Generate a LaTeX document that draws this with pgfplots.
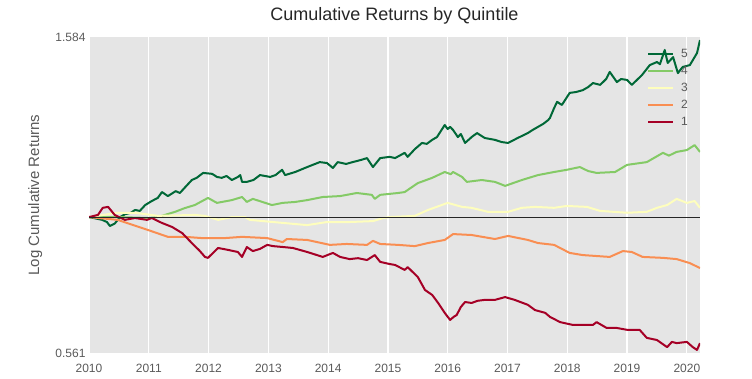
\documentclass[border=0pt]{standalone}
\usepackage{fontspec}
\setmainfont{Liberation Sans}
\usepackage{pgfplots}
\pgfplotsset{compat=1.18}
\definecolor{qa}{HTML}{A50026}
\definecolor{qb}{HTML}{F98E52}
\definecolor{qc}{HTML}{FEFEBD}
\definecolor{qd}{HTML}{84CA66}
\definecolor{qe}{HTML}{006837}
\definecolor{bggray}{HTML}{E5E5E5}
\definecolor{tickgray}{HTML}{5A5A5A}
\begin{document}
\begin{tikzpicture}
\useasboundingbox (0,0) rectangle (752pt,378pt);
\begin{axis}[
  at={(89pt,25pt)}, anchor=south west,
  width=611pt, height=316pt, scale only axis,
  xmin=2010, xmax=2020.22, ymin=0.561, ymax=1.584,
  axis background/.style={fill=bggray},
  axis line style={draw=none},
  xtick={2010,2011,2012,2013,2014,2015,2016,2017,2018,2019,2020},
  xticklabels={2010,2011,2012,2013,2014,2015,2016,2017,2018,2019,2020},
  ytick={0.561,1.584}, yticklabels={0.561,1.584},
  major tick length=0pt,
  xmajorgrids, grid style={white, line width=1.2pt},
  tick label style={font=\fontsize{12}{14}\selectfont, text=tickgray},
  xticklabel style={yshift=-8pt},
  ylabel={Log Cumulative Returns},
  ylabel style={at={(axis description cs:-0.088,0.5)}, anchor=center, font=\fontsize{15}{17}\selectfont, text=tickgray},
  title={Cumulative Returns by Quintile},
  title style={at={(axis description cs:0.5,1.048)}, anchor=center, font=\fontsize{18}{20}\selectfont, text=black!85},
  legend style={at={(0.987,0.971)}, anchor=north east, draw=none, fill=none,
    font=\fontsize{12}{12}\selectfont, text=tickgray, row sep=5.2pt,
    nodes={inner sep=1pt},
    /tikz/every odd column/.append style={column sep=6pt}},
  legend cell align=left,
  legend image code/.code={\draw[#1] (0pt,0pt) -- (25pt,0pt);},
  every axis plot/.append style={line width=2pt, line join=round},
]
\addplot[qe] coordinates {
(2010.00,1.001) (2010.15,0.995) (2010.22,0.992) (2010.30,0.985) (2010.35,0.972) (2010.43,0.980)
(2010.52,1.001) (2010.60,1.010) (2010.70,1.015) (2010.77,1.024) (2010.85,1.021) (2010.94,1.040)
(2011.05,1.053) (2011.15,1.063) (2011.22,1.082) (2011.32,1.069) (2011.45,1.085)
(2011.52,1.079) (2011.61,1.098) (2011.72,1.121) (2011.80,1.128) (2011.91,1.144) (2012.06,1.141) (2012.14,1.131) (2012.22,1.128)
(2012.30,1.134) (2012.39,1.121) (2012.49,1.131) (2012.53,1.137) (2012.56,1.115) (2012.64,1.115)
(2012.75,1.121) (2012.86,1.137) (2013.03,1.131) (2013.12,1.137) (2013.23,1.154) (2013.28,1.137) (2013.45,1.147) (2013.65,1.163)
(2013.86,1.179) (2013.98,1.176) (2014.08,1.160) (2014.16,1.179) (2014.30,1.173) (2014.41,1.179)
(2014.55,1.186) (2014.65,1.192) (2014.75,1.163) (2014.87,1.192) (2015.03,1.196) (2015.12,1.192)
(2015.28,1.209) (2015.33,1.196) (2015.45,1.221) (2015.57,1.241) (2015.65,1.238) (2015.74,1.251) (2015.82,1.260)
(2015.95,1.299) (2016.00,1.286) (2016.04,1.293) (2016.09,1.283) (2016.17,1.260) (2016.22,1.270) (2016.29,1.241)
(2016.40,1.260) (2016.49,1.273) (2016.62,1.257) (2016.79,1.251) (2016.90,1.244) (2017.01,1.241) (2017.17,1.257)
(2017.34,1.273) (2017.42,1.283) (2017.51,1.293) (2017.60,1.303) (2017.68,1.315) (2017.71,1.322) (2017.78,1.354)
(2017.83,1.374) (2017.91,1.364) (2018.04,1.403) (2018.15,1.406) (2018.26,1.412) (2018.35,1.422) (2018.43,1.435)
(2018.55,1.429) (2018.65,1.448) (2018.71,1.471) (2018.83,1.438) (2018.90,1.448) (2019.00,1.445) (2019.08,1.429)
(2019.25,1.461) (2019.38,1.493) (2019.50,1.503) (2019.55,1.496) (2019.63,1.542) (2019.68,1.500)
(2019.77,1.519) (2019.85,1.467) (2019.93,1.487) (2020.05,1.493) (2020.17,1.532)
(2020.22,1.574)
};
\addlegendentry{5}
\addplot[qd] coordinates {
(2010.00,1.001) (2010.50,1.001) (2011.00,0.998) (2011.15,1.001) (2011.44,1.018)
(2011.60,1.030) (2011.77,1.040) (2011.99,1.063) (2012.14,1.047) (2012.39,1.056) (2012.56,1.066)
(2012.64,1.050) (2012.74,1.060) (2012.90,1.050) (2013.06,1.040) (2013.24,1.047) (2013.45,1.050) (2013.65,1.056)
(2013.91,1.066) (2014.20,1.069) (2014.48,1.079) (2014.73,1.073) (2014.78,1.060)
(2014.87,1.073) (2015.17,1.079) (2015.28,1.082) (2015.50,1.111) (2015.74,1.128)
(2015.95,1.147) (2016.05,1.140) (2016.09,1.147) (2016.24,1.131) (2016.32,1.115) (2016.57,1.121)
(2016.79,1.115) (2016.96,1.102) (2017.24,1.121) (2017.51,1.137) (2017.78,1.147)
(2017.99,1.154) (2018.21,1.163) (2018.35,1.150) (2018.49,1.144) (2018.80,1.147) (2019.00,1.170)
(2019.33,1.179) (2019.60,1.209) (2019.70,1.200) (2019.83,1.212) (2020.00,1.218) (2020.13,1.234)
(2020.22,1.212)
};
\addlegendentry{4}
\addplot[qc] coordinates {
(2010.00,1.001) (2010.48,1.015) (2010.77,1.015) (2011.15,1.005) (2011.77,1.008)
(2011.94,1.005) (2012.16,0.992) (2012.39,1.001) (2012.61,1.001) (2012.69,0.992)
(2013.08,0.985) (2013.65,0.975) (2013.98,0.985) (2014.36,0.985) (2014.75,0.988)
(2014.92,0.998) (2015.03,1.001) (2015.45,1.005) (2015.67,1.024) (2016.00,1.047)
(2016.24,1.034) (2016.40,1.031) (2016.67,1.018) (2017.01,1.018) (2017.24,1.031)
(2017.46,1.034) (2017.78,1.031) (2017.99,1.037) (2018.33,1.034) (2018.55,1.021)
(2019.00,1.015) (2019.33,1.018) (2019.50,1.031) (2019.67,1.040) (2019.83,1.060)
(2020.00,1.047) (2020.13,1.053) (2020.22,1.031)
};
\addlegendentry{3}
\addplot[qb] coordinates {
(2010.00,1.001) (2010.48,0.992) (2010.99,0.959) (2011.32,0.937) (2011.61,0.937)
(2011.89,0.933) (2012.27,0.933) (2012.56,0.937) (2012.98,0.933) (2013.24,0.920)
(2013.31,0.930) (2013.65,0.927) (2014.03,0.911) (2014.31,0.914) (2014.65,0.911)
(2014.75,0.924) (2014.87,0.914) (2015.17,0.911) (2015.45,0.907) (2015.67,0.917)
(2015.95,0.927) (2016.09,0.946) (2016.40,0.943) (2016.79,0.930) (2017.01,0.940)
(2017.34,0.927) (2017.51,0.917) (2017.78,0.911) (2018.04,0.885) (2018.26,0.878)
(2018.71,0.872) (2018.93,0.891) (2019.08,0.888) (2019.26,0.872) (2019.60,0.869)
(2019.83,0.865) (2020.05,0.852) (2020.22,0.836)
};
\addlegendentry{2}
\addplot[qa] coordinates {
(2010.00,1.001) (2010.15,1.008) (2010.23,1.031) (2010.32,1.034) (2010.43,1.008)
(2010.60,0.992) (2010.77,0.998) (2010.97,0.992) (2011.05,0.998) (2011.22,0.982)
(2011.39,0.969) (2011.56,0.949) (2011.72,0.917) (2011.85,0.892) (2011.94,0.872) (2011.99,0.869)
(2012.16,0.901) (2012.32,0.895) (2012.49,0.888) (2012.56,0.872) (2012.64,0.904)
(2012.74,0.891) (2012.86,0.898) (2012.98,0.911) (2013.08,0.907) (2013.25,0.904) (2013.41,0.901) (2013.65,0.888)
(2013.91,0.872) (2014.08,0.885) (2014.20,0.872) (2014.36,0.865) (2014.50,0.868) (2014.65,0.862)
(2014.78,0.878) (2014.87,0.856) (2015.03,0.849) (2015.12,0.846) (2015.28,0.830)
(2015.33,0.839) (2015.50,0.807) (2015.62,0.765) (2015.74,0.749) (2015.84,0.723)
(2015.95,0.691) (2016.04,0.668) (2016.10,0.678) (2016.15,0.684) (2016.22,0.710) (2016.29,0.726) (2016.40,0.723)
(2016.50,0.730) (2016.62,0.733) (2016.79,0.733) (2016.96,0.742) (2017.12,0.733) (2017.34,0.717)
(2017.46,0.700) (2017.63,0.691) (2017.71,0.678) (2017.88,0.661) (2018.09,0.652)
(2018.43,0.652) (2018.49,0.661) (2018.66,0.642) (2018.83,0.642) (2019.00,0.636)
(2019.21,0.636) (2019.33,0.610) (2019.50,0.603) (2019.67,0.580) (2019.75,0.597) (2019.83,0.593)
(2020.00,0.597) (2020.10,0.580) (2020.17,0.571) (2020.22,0.593)
};
\addlegendentry{1}
\addplot[black!85, line width=1.1pt, forget plot] coordinates {(2010,1) (2020.22,1)};
\end{axis}
\end{tikzpicture}
\end{document}
